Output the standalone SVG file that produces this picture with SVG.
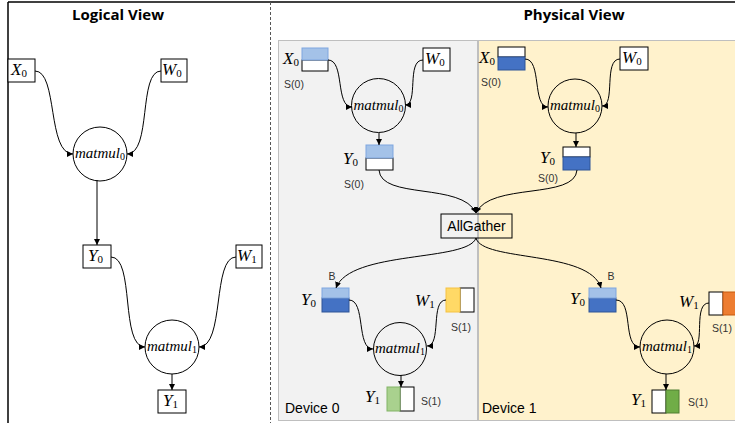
<svg xmlns="http://www.w3.org/2000/svg" width="735" height="423" viewBox="0 0 735 423">
<defs>
<marker id="arr" viewBox="0 0 6 6" refX="6" refY="3" markerWidth="6" markerHeight="6" markerUnits="userSpaceOnUse" orient="auto">
<path d="M0,0 L6,3 L0,6 z" fill="#000"/>
</marker>
<style>
.box{fill:#fff;stroke:#000;stroke-width:1}
.op{fill:none;stroke:#000;stroke-width:1}
.m{font-family:"Liberation Serif",serif;font-style:italic;font-size:17px;fill:#000}
.sub{font-style:normal;font-size:11px}
.mm{font-size:15px}
.mm .sub{font-size:10px}
.s{font-family:"Liberation Sans",Arial,sans-serif;font-size:10.5px;fill:#333}
.lbl{font-family:"Liberation Sans",Arial,sans-serif;font-size:14px;fill:#000}
.title{font-family:"Open Sans","Liberation Sans",sans-serif;font-weight:bold;font-size:15px;fill:#000}
.edge{fill:none;stroke:#000;stroke-width:1;marker-end:url(#arr)}
.lb{fill:#a4c2e8;stroke:#7ea6e0}
.db{fill:#4472c4;stroke:#2f5597}
.yel{fill:#ffd966;stroke:#f5c242}
.lg{fill:#a9d18e;stroke:#82b366}
.dg{fill:#70ad47;stroke:#507e32}
.or{fill:#ed7d31;stroke:#c55a11}
</style>
</defs>

<!-- frame -->
<g id="frame">
<line x1="8" y1="2" x2="735" y2="2" stroke="#000" stroke-width="1.5"/>
<line x1="8" y1="2" x2="8" y2="423" stroke="#000" stroke-width="1.5"/>
<line x1="270.5" y1="2" x2="270.5" y2="423" stroke="#555" stroke-width="1" stroke-dasharray="3,2"/>
<text class="title" x="118" y="20" text-anchor="middle">Logical View</text>
<text class="title" x="574" y="20" text-anchor="middle">Physical View</text>
</g>

<!-- device panels -->
<g id="device0-panel">
<rect x="278.5" y="40.5" width="199" height="380" fill="#f2f2f2" stroke="#bfbfbf"/>
<text class="lbl" x="285" y="413">Device 0</text>
</g>
<g id="device1-panel">
<rect x="478.5" y="40.5" width="260" height="380" fill="#fff2cc" stroke="#bfbfbf"/>
<text class="lbl" x="482" y="413">Device 1</text>
</g>

<!-- logical nodes -->
<g id="L-X0"><rect class="box" x="8" y="59" width="27" height="23"/><text class="m" x="11" y="75">X<tspan class="sub" dy="2">0</tspan></text></g>
<g id="L-W0"><rect class="box" x="161" y="59" width="26" height="23"/><text class="m" x="162" y="75">W<tspan class="sub" dy="2">0</tspan></text></g>
<g id="L-matmul0"><circle class="op" cx="100" cy="154" r="27"/><text class="m mm" x="100" y="158" text-anchor="middle">matmul<tspan class="sub" dy="2">0</tspan></text></g>
<g id="L-Y0"><rect class="box" x="83" y="245" width="28" height="23"/><text class="m" x="88" y="261">Y<tspan class="sub" dy="2">0</tspan></text></g>
<g id="L-W1"><rect class="box" x="236" y="245" width="26" height="23"/><text class="m" x="237" y="261">W<tspan class="sub" dy="2">1</tspan></text></g>
<g id="L-matmul1"><circle class="op" cx="172" cy="347" r="27"/><text class="m mm" x="172" y="351" text-anchor="middle">matmul<tspan class="sub" dy="2">1</tspan></text></g>
<g id="L-Y1"><rect class="box" x="158" y="390" width="28" height="23"/><text class="m" x="163" y="406">Y<tspan class="sub" dy="2">1</tspan></text></g>

<!-- device 0 nodes -->
<g id="D0-X0">
<text class="m" x="283" y="64">X<tspan class="sub" dy="2">0</tspan></text>
<rect class="box" x="302" y="60" width="26" height="11"/>
<rect class="lb" x="302" y="48" width="26" height="12"/>
<text class="s" x="294" y="88" text-anchor="middle">S(0)</text>
</g>
<g id="D0-W0"><rect class="box" x="423" y="48" width="27" height="23"/><text class="m" x="425" y="64">W<tspan class="sub" dy="2">0</tspan></text></g>
<g id="D0-matmul0"><circle class="op" cx="378.5" cy="105.5" r="27"/><text class="m mm" x="378.5" y="109.5" text-anchor="middle">matmul<tspan class="sub" dy="2">0</tspan></text></g>
<g id="D0-Y0">
<text class="m" x="343" y="164">Y<tspan class="sub" dy="2">0</tspan></text>
<rect class="box" x="366" y="158" width="27" height="12"/>
<rect class="lb" x="366" y="145" width="27" height="13"/>
<text class="s" x="354" y="188" text-anchor="middle">S(0)</text>
</g>
<g id="D0-Y0B">
<text class="m" x="301" y="305">Y<tspan class="sub" dy="2">0</tspan></text>
<rect class="db" x="322" y="298" width="27" height="14"/>
<rect class="lb" x="322" y="288" width="27" height="10"/>
<text class="s" x="332" y="280" text-anchor="middle">B</text>
</g>
<g id="D0-W1">
<text class="m" x="415" y="306">W<tspan class="sub" dy="2">1</tspan></text>
<rect class="box" x="460" y="288" width="14" height="24"/>
<rect class="yel" x="446" y="288" width="14" height="24"/>
<text class="s" x="461" y="331" text-anchor="middle">S(1)</text>
</g>
<g id="D0-matmul1"><circle class="op" cx="400" cy="349" r="26.5"/><text class="m mm" x="400" y="353" text-anchor="middle">matmul<tspan class="sub" dy="2">1</tspan></text></g>
<g id="D0-Y1">
<text class="m" x="365" y="402">Y<tspan class="sub" dy="2">1</tspan></text>
<rect class="box" x="400" y="387" width="14" height="24"/>
<rect class="lg" x="387" y="387" width="13" height="24"/>
<text class="s" x="431" y="405" text-anchor="middle">S(1)</text>
</g>

<!-- AllGather -->
<g id="AllGather">
<rect x="441" y="214" width="71" height="24" fill="none" stroke="#000"/>
<text class="lbl" x="476.5" y="231" text-anchor="middle">AllGather</text>
</g>

<!-- device 1 nodes -->
<g id="D1-X0">
<text class="m" x="479" y="63">X<tspan class="sub" dy="2">0</tspan></text>
<rect class="box" x="498" y="47" width="27" height="10"/>
<rect class="db" x="498" y="57" width="27" height="13"/>
<text class="s" x="491" y="86" text-anchor="middle">S(0)</text>
</g>
<g id="D1-W0"><rect class="box" x="620" y="47" width="28" height="23"/><text class="m" x="622" y="63">W<tspan class="sub" dy="2">0</tspan></text></g>
<g id="D1-matmul0"><circle class="op" cx="575" cy="106" r="27"/><text class="m mm" x="575" y="110" text-anchor="middle">matmul<tspan class="sub" dy="2">0</tspan></text></g>
<g id="D1-Y0">
<text class="m" x="540" y="163">Y<tspan class="sub" dy="2">0</tspan></text>
<rect class="box" x="563" y="147" width="27" height="10"/>
<rect class="db" x="563" y="157" width="27" height="13"/>
<text class="s" x="548" y="182" text-anchor="middle">S(0)</text>
</g>
<g id="D1-Y0B">
<text class="m" x="570" y="304">Y<tspan class="sub" dy="2">0</tspan></text>
<rect class="db" x="589" y="298" width="27" height="14"/>
<rect class="lb" x="589" y="288" width="27" height="10"/>
<text class="s" x="611" y="280" text-anchor="middle">B</text>
</g>
<g id="D1-W1">
<text class="m" x="679" y="307">W<tspan class="sub" dy="2">1</tspan></text>
<rect class="box" x="709" y="292" width="14" height="23"/>
<rect class="or" x="723" y="292" width="14" height="23"/>
<text class="s" x="722" y="332" text-anchor="middle">S(1)</text>
</g>
<g id="D1-matmul1"><circle class="op" cx="667" cy="347" r="27"/><text class="m mm" x="667" y="351" text-anchor="middle">matmul<tspan class="sub" dy="2">1</tspan></text></g>
<g id="D1-Y1">
<text class="m" x="631" y="405">Y<tspan class="sub" dy="2">1</tspan></text>
<rect class="box" x="652" y="390" width="14" height="23"/>
<rect class="dg" x="666" y="390" width="13" height="23"/>
<text class="s" x="698" y="406" text-anchor="middle">S(1)</text>
</g>

<!-- connectors -->
<g id="connectors">
<path class="edge" d="M35,71 C58,71 47,154 73,154"/>
<path class="edge" d="M161,71 C138,71 152,154 127,154"/>
<path class="edge" d="M97,180 L97,245"/>
<path class="edge" d="M111,257 C135,257 120,347 145,347"/>
<path class="edge" d="M236,257 C212,257 225,347 199,347"/>
<path class="edge" d="M172,374 L172,390"/>

<path class="edge" d="M328,60 C345,60 335,107 352,107"/>
<path class="edge" d="M423,60 C406,60 419,105 405,105"/>
<path class="edge" d="M379,133 L379,145"/>
<path class="edge" d="M379,170 C381,200 462,182 476,213"/>
<path class="edge" d="M577,170 C575,200 490,182 476,213"/>

<path class="edge" d="M525,59 C542,59 532,107 548,107"/>
<path class="edge" d="M620,59 C603,59 616,106 602,106"/>
<path class="edge" d="M576,133 L576,147"/>

<path class="edge" d="M476,238 C468,262 350,250 336,288"/>
<path class="edge" d="M476,238 C482,262 590,250 601,288"/>

<path class="edge" d="M349,300 C366,300 356,349 373,349"/>
<path class="edge" d="M446,300 C430,300 442,346 427,346"/>
<path class="edge" d="M401,375 L401,387"/>

<path class="edge" d="M616,300 C634,300 622,347 640,347"/>
<path class="edge" d="M709,303 C693,303 705,346 694,346"/>
<path class="edge" d="M666,374 L666,390"/>
</g>
</svg>
